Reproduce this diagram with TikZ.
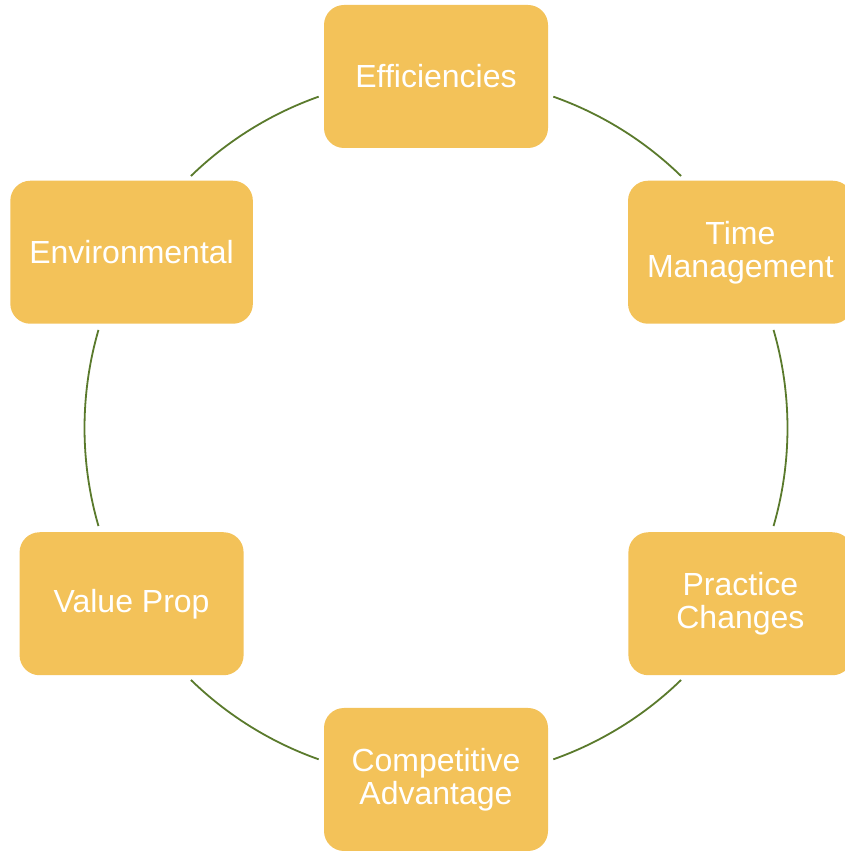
\documentclass[tikz,border=0pt]{standalone}
\usepackage{fontspec}
\setmainfont{Liberation Sans}
\definecolor{boxfill}{HTML}{F3C259}
\definecolor{arcline}{HTML}{5A7A2C}
\begin{document}
\begin{tikzpicture}[x=1pt,y=1pt,
  stepbox/.style={fill=boxfill, draw=none, rounded corners=20pt,
    minimum width=224pt, minimum height=143pt, inner xsep=19pt,
    text=white, align=center, font=\fontsize{32}{33}\selectfont},
  cyc/.style={draw=arcline, line width=1.8pt}]
\useasboundingbox (0,0) rectangle (844,851);
\coordinate (c) at (436,423);
% connectors (arcs of the cycle)
\draw[cyc] ([shift={(109.5:351.5)}]c) arc[start angle=109.5, end angle=134.2, radius=351.5];
\draw[cyc] ([shift={(163.8:351.5)}]c) arc[start angle=163.8, end angle=196.2, radius=351.5];
\draw[cyc] ([shift={(225.8:351.5)}]c) arc[start angle=225.8, end angle=250.5, radius=351.5];
\draw[cyc] ([shift={(289.5:351.5)}]c) arc[start angle=289.5, end angle=314.2, radius=351.5];
\draw[cyc] ([shift={(-16.2:351.5)}]c) arc[start angle=-16.2, end angle=16.2, radius=351.5];
\draw[cyc] ([shift={(45.8:351.5)}]c) arc[start angle=45.8, end angle=70.5, radius=351.5];
% nodes
\begin{scope}[shift={(c)}]
\node[stepbox] (eff) at (90:351.5) {Efficiencies};
\node[stepbox] (time) at (30:351.5) {Time\\Management};
\node[stepbox] (prac) at (-30:351.5) {Practice\\Changes};
\node[stepbox] (comp) at (-90:351.5) {Competitive\\Advantage};
\node[stepbox] (val) at (-150:351.5) {Value Prop};
\node[stepbox] (env) at (150:351.5) {Environmental};
\end{scope}
\end{tikzpicture}
\end{document}
